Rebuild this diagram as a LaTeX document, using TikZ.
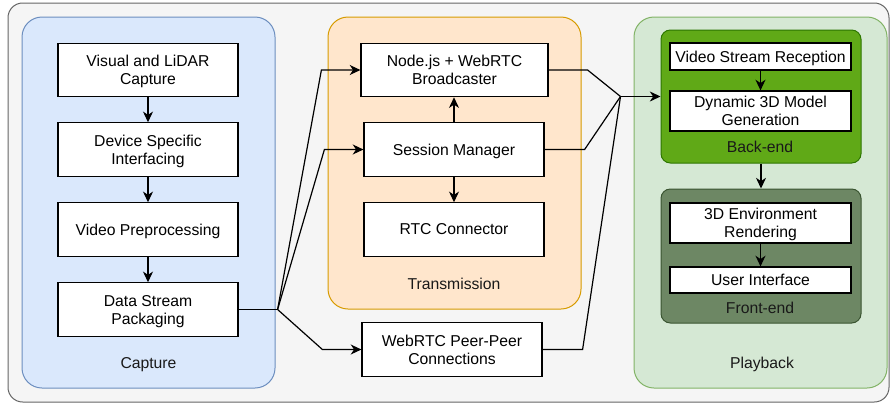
\documentclass[tikz,border=0pt]{standalone}
\usepackage{fontspec}
\setmainfont{Liberation Sans}
\usetikzlibrary{calc,arrows.meta}
\definecolor{outerfill}{HTML}{F5F5F5}
\definecolor{outerdraw}{HTML}{666666}
\definecolor{capfill}{HTML}{DAE8FC}
\definecolor{capdraw}{HTML}{6C8EBF}
\definecolor{trfill}{HTML}{FFE6CC}
\definecolor{trdraw}{HTML}{D79B00}
\definecolor{pbfill}{HTML}{D5E8D4}
\definecolor{pbdraw}{HTML}{82B366}
\definecolor{befill}{HTML}{60A917}
\definecolor{bedraw}{HTML}{2D7600}
\definecolor{fefill}{HTML}{6D8764}
\definecolor{fedraw}{HTML}{3A5431}
\tikzset{
	box/.style={draw=black, line width=0.9pt, fill=white, inner sep=0pt, align=center, minimum width=135pt, minimum height=40pt, text depth=-2pt, font=\fontsize{11.8}{13.5}\selectfont},
	group/.style={line width=0.75pt, inner sep=0pt, rounded corners=15pt},
	lbl/.style={font=\fontsize{11.8}{13.5}\selectfont, text depth=-1pt, color=black!90},
	wire/.style={line width=0.9pt},
	arr/.style={line width=0.9pt, -{Stealth[length=8pt,width=7.5pt,inset=2.5pt]}},
}
\begin{document}
\begin{tikzpicture}[x=0.75pt, y=-0.75pt]
			%%%%% START %%%%%
			\useasboundingbox (0,0) rectangle (891,404);
			
			\node[group, fill=outerfill, draw=outerdraw, rounded corners=11pt, minimum width=660.75pt, minimum height=299.25pt] (outer) at (448.5,202.5) {};
			
			\node[group, fill=capfill, draw=capdraw, minimum width=189.75pt, minimum height=278.25pt] (capture) at (148.5,202.5) {};
			\node[group, fill=trfill, draw=trdraw, minimum width=189.75pt, minimum height=219pt] (trans) at (454.5,163) {};
			\node[group, fill=pbfill, draw=pbdraw, minimum width=189.75pt, minimum height=278.25pt] (playback) at (760.5,202.5) {};
			\node[group, fill=befill, draw=bedraw, rounded corners=7pt, minimum width=150pt, minimum height=99.75pt] (backend) at (761,96.5) {};
			\node[group, fill=fefill, draw=fedraw, rounded corners=7pt, minimum width=150pt, minimum height=100.5pt] (frontend) at (761,256) {};
			
			\node[lbl] (caplbl) at (148.5,363) {Capture};
			\node[lbl] (trlbl) at (454,284) {Transmission};
			\node[lbl] (pblbl) at (762,363) {Playback};
			\node[lbl] (belbl) at (760,147) {Back-end};
			\node[lbl] (felbl) at (760,308) {Front-end};
			
			% capture
			\node[box] (vis) at (148,70) {Visual and LiDAR\\Capture};
			\node[box] (dev) at (148,149.5) {Device Specific\\Interfacing};
			\node[box] (pre) at (148,229.5) {Video Preprocessing};
			\node[box] (dsp) at (148,309.5) {Data Stream\\Packaging};
			
			% transmission
			\node[box, minimum width=140.25pt] (bcast) at (454.5,70) {Node.js + WebRTC\\Broadcaster};
			\node[box] (sess) at (454,149.5) {Session Manager};
			\node[box] (rtc) at (454,229.5) {RTC Connector};
			\node[box] (peer) at (452,349.5) {WebRTC Peer-Peer\\Connections};
			
			% playback
			\node[box, minimum width=135.75pt, minimum height=20.25pt] (vsr) at (760.5,56.5) {Video Stream Reception};
			\node[box, minimum width=135.75pt, minimum height=30pt] (dmg) at (760.5,111) {Dynamic 3D Model\\Generation};
			\node[box, minimum width=135.75pt, minimum height=30pt] (env) at (760.5,223) {3D Environment\\Rendering};
			\node[box, minimum width=135.75pt, minimum height=19.5pt] (ui) at (760.5,280) {User Interface};
			
			\draw[arr] (vis) -- (dev);
			\draw[arr] (dev) -- (pre);
			\draw[arr] (pre) -- (dsp);
			
			\draw[arr] (sess.north) -- (sess.north |- bcast.south);
			\draw[arr] (sess.south) -- (sess.south |- rtc.north);
			
			\draw[arr] (vsr) -- (dmg);
			\draw[arr] (backend) -- (frontend);
			\draw[arr] (env) -- (ui);
			
			\coordinate (split) at ($(dsp.east)+(39,0)$);
			\draw[wire] (dsp.east) -- (split);
			\draw[arr] (split) -- ($(bcast.west)+(-39,0)$) -- (bcast.west);
			\draw[arr] (split) -- ($(sess.west)+(-39,0)$) -- (sess.west);
			\draw[arr] (split) -- ($(peer.west)+(-39,0)$) -- (peer.west);
			
			\coordinate (merge) at ($(backend.west)+(-40,0)$);
			\draw[wire] (bcast.east) -- ++(39,0) -- (merge);
			\draw[wire] (sess.east) -- ++(40,0) -- (merge);
			\draw[wire] (peer.east) -- ++(40,0) -- (merge);
			\draw[arr] (merge) -- (backend.west);
			
			%%%%% END %%%%%
\end{tikzpicture}
\end{document}
